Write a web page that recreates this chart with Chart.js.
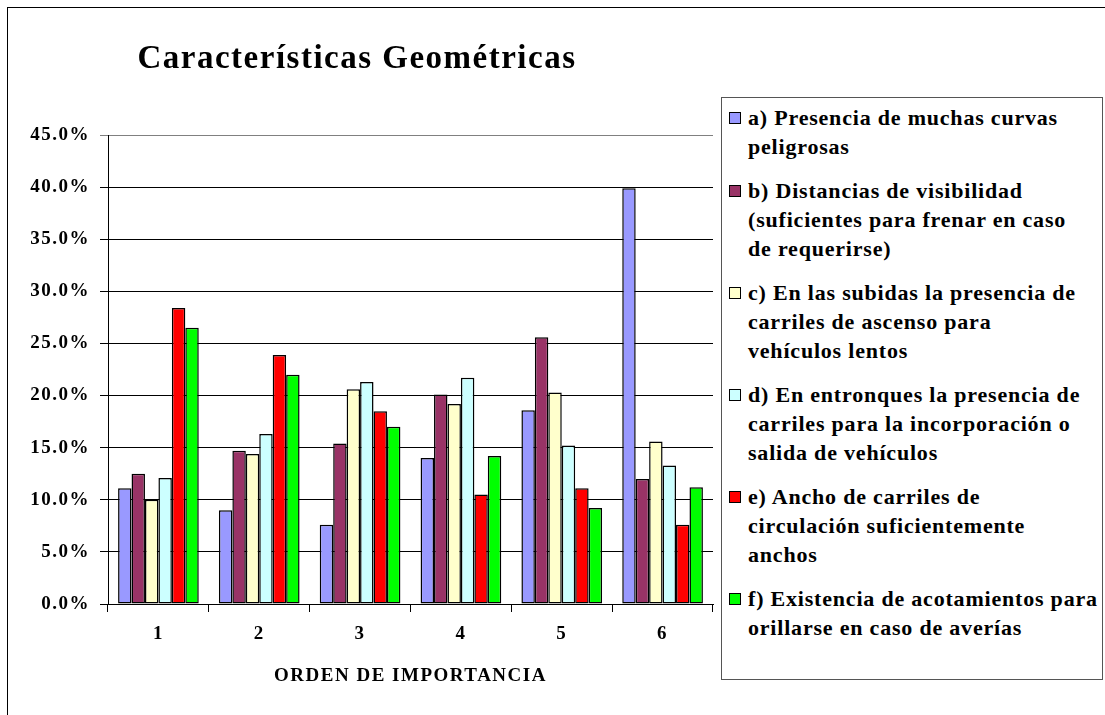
<!DOCTYPE html>
<html>
<head>
<meta charset="utf-8">
<script src="https://cdn.jsdelivr.net/npm/chart.js@4/dist/chart.umd.min.js"></script>
<style>
  body { margin: 0; background: #fff; overflow: hidden; }
  #wrap { position: relative; width: 1105px; height: 715px; overflow: hidden; font-family: "Liberation Serif", "Times New Roman", serif; color: #000; }
  #frame { position: absolute; left: 7px; top: 7px; width: 1200px; height: 800px; border: 1px solid #000; }
  #title { position: absolute; left: 0; top: 37px; width: 714px; text-align: center; font-weight: bold; font-size: 33px; line-height: 40px; letter-spacing: 1.5px; }
  #chartBox { position: absolute; left: 0; top: 0; width: 720px; height: 715px; }
  #legend { position: absolute; left: 721px; top: 97px; width: 382px; height: 583px; border: 1px solid #555; background: #fff; box-sizing: border-box; padding-top: 5px; }
  .item { display: flex; align-items: flex-start; margin-bottom: 15px; }
  .mark { width: 10px; height: 10px; border: 1px solid #000; margin: 9px 7px 0 7px; flex: none; }
  .txt { font-weight: bold; font-size: 22px; line-height: 29px; letter-spacing: 0.8px; white-space: pre; }
</style>
</head>
<body>
<div id="wrap">
  <div id="frame"></div>
  <div id="chartBox"><canvas id="chart" width="720" height="715"></canvas></div>
  <div id="title">Características Geométricas</div>
  <div id="legend"></div>
</div>
<script>
// categories and series values (percent)
const categories = ["1", "2", "3", "4", "5", "6"];
const seriesNames = [
    "a) Presencia de muchas curvas\npeligrosas",
    "b) Distancias de visibilidad\n(suficientes para frenar en caso\nde requerirse)",
    "c) En las subidas la presencia de\ncarriles de ascenso para\nvehículos lentos",
    "d) En entronques la presencia de\ncarriles para la incorporación o\nsalida de vehículos",
    "e) Ancho de carriles de\ncirculación suficientemente\nanchos",
    "f) Existencia de acotamientos para\norillarse en caso de averías"
];
const serieA = [11.1, 9.0, 7.6, 14.0, 18.6, 39.9];
const serieB = [12.5, 14.7, 15.4, 20.1, 25.6, 12.0];
const serieC = [10.0, 14.4, 20.6, 19.2, 20.3, 15.6];
const serieD = [12.1, 16.3, 21.3, 21.7, 15.2, 13.3];
const serieE = [28.4, 23.9, 18.5, 10.5, 11.1, 7.6];
const serieF = [26.5, 22.0, 17.0, 14.2, 9.2, 11.2];
const colors = ["#9999FF", "#993366", "#FFFFCC", "#CCFFFF", "#FF0000", "#00FF00"];
const yTicks = [0, 5, 10, 15, 20, 25, 30, 35, 40, 45];
const xTitle = "ORDEN DE IMPORTANCIA";

const allSeries = [serieA, serieB, serieC, serieD, serieE, serieF];

let datasets = allSeries.map((values, i) => ({
    label: seriesNames[i],
    data: values,
    backgroundColor: colors[i],
    borderColor: "#000",
    borderWidth: 1.5,
    borderSkipped: false,
    categoryPercentage: 0.8,
    barPercentage: 1.0
}));

// wider letters like the original Excel output
const spacing = {
    id: "spacing",
    beforeDraw(chart) { chart.ctx.letterSpacing = "1.5px"; }
};

const font = { family: "'Liberation Serif', 'Times New Roman', serif", weight: "bold" };

new Chart(document.getElementById("chart"), {
    type: "bar",
    data: { labels: categories, datasets: datasets },
    plugins: [spacing],
    options: {
        responsive: false,
        animation: false,
        layout: { padding: { top: 135, right: 7, left: 0, bottom: 0 } },
        plugins: {
            legend: { display: false },
            title: { display: false },
            tooltip: { enabled: false }
        },
        scales: {
            x: {
                offset: true,
                grid: { display: true, drawOnChartArea: false, drawTicks: true, tickLength: 8, color: "#000", offset: true },
                border: { display: true, color: "#000", width: 1 },
                ticks: { color: "#000", padding: 11, font: { ...font, size: 19 } },
                title: { display: true, text: xTitle, color: "#000", padding: { top: 0, bottom: 28 }, font: { ...font, size: 19 } },
                afterFit(scale) { scale.height = 111; }
            },
            y: {
                min: 0,
                max: 45,
                afterBuildTicks(scale) { scale.ticks = yTicks.map(v => ({ value: v })); },
                grid: {
                    color: c => (c.tick && c.tick.value === 45 ? "#808080" : "#000"),
                    lineWidth: 1,
                    tickLength: 8
                },
                border: { display: true, color: "#000", width: 1 },
                ticks: {
                    color: "#000",
                    padding: 10,
                    font: { ...font, size: 19 },
                    callback: v => v.toFixed(1) + "%"
                },
                afterFit(scale) { scale.width = 108; }
            }
        }
    }
});

// legend drawn as html, entries follow the datasets
let legendBox = document.getElementById("legend");
datasets.forEach(ds => {
    let item = `<div class="item">
        <div class="mark" style="background:${ds.backgroundColor}"></div>
        <div class="txt">${ds.label}</div>
    </div>`;
    legendBox.innerHTML += item;
});
</script>
</body>
</html>
